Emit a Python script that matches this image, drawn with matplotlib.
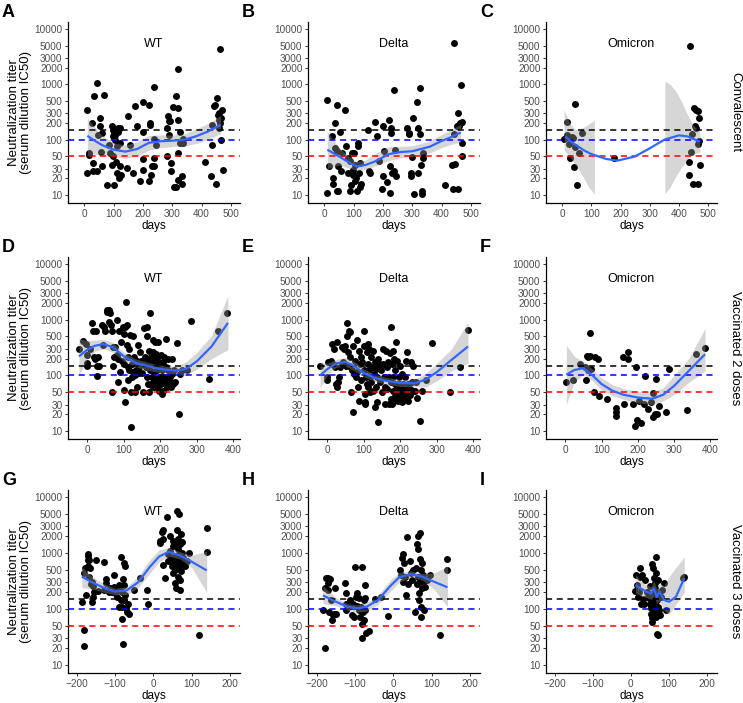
import matplotlib
matplotlib.use("Agg")
import matplotlib.pyplot as plt
import numpy as np

plt.rcParams['font.family'] = ['Liberation Sans', 'DejaVu Sans']

# ---- data: (days, titer) ----
a_points = [(10, 350), (10, 25), (17, 53), (17, 58), (25, 200), (28, 38), (30, 27), (34, 610), (42, 27), (42, 1050),
            (45, 123), (53, 245), (53, 175), (55, 60), (60, 130), (67, 650), (60, 33), (78, 15), (83, 81), (87, 57),
            (95, 175), (97, 150), (93, 35), (99, 50), (102, 15), (104, 123), (105, 100), (108, 40), (110, 76), (112, 25),
            (116, 160), (117, 20), (120, 33), (120, 160), (122, 86), (125, 23), (102, 140), (116, 140), (99, 115),
            (150, 270), (145, 31), (155, 81), (167, 25), (173, 400), (179, 175), (190, 18), (199, 29), (201, 140),
            (199, 44), (201, 490), (219, 18), (222, 430), (224, 185), (224, 200), (227, 23), (230, 33), (236, 910),
            (238, 47), (236, 105), (238, 34), (243, 80), (281, 50), (284, 265), (287, 215), (293, 215), (281, 160),
            (290, 123), (295, 38), (295, 27), (304, 390), (306, 14), (313, 14), (313, 610), (318, 380), (318, 57),
            (321, 1900), (321, 230), (321, 19), (327, 88), (327, 140), (333, 22), (336, 105), (333, 16), (338, 88),
            (411, 40), (432, 22), (435, 81), (437, 185), (441, 400), (444, 430), (450, 16), (452, 570), (458, 300),
            (455, 280), (460, 230), (464, 4300), (466, 245), (469, 350), (466, 100), (473, 28), (464, 200), (461, 160)]
b_points = [(10, 525), (10, 11), (17, 33), (25, 117), (28, 20), (31, 16), (36, 200), (36, 71), (42, 430), (42, 12),
            (47, 12), (44, 62), (47, 33), (53, 140), (56, 27), (60, 57), (70, 350), (72, 78), (80, 46), (82, 25),
            (88, 42), (88, 12), (91, 15), (95, 57), (97, 29), (99, 23), (102, 57), (105, 18), (105, 35), (110, 12),
            (113, 86), (116, 76), (117, 25), (120, 14), (122, 38), (124, 16), (108, 20), (151, 27), (150, 148),
            (156, 25), (173, 210), (179, 117), (188, 42), (196, 13), (199, 22), (201, 175), (205, 62), (213, 17),
            (222, 225), (224, 33), (227, 135), (227, 165), (224, 11), (230, 25), (236, 27), (238, 800), (241, 66),
            (245, 22), (281, 160), (287, 125), (290, 135), (295, 25), (295, 22), (298, 48), (304, 245), (306, 10.5),
            (315, 490), (318, 25), (321, 160), (325, 850), (325, 125), (329, 35), (333, 12), (333, 10.5), (338, 57),
            (336, 46), (412, 15), (436, 35), (439, 13), (441, 5700), (447, 37), (455, 13), (441, 125), (452, 175),
            (456, 300), (458, 185), (464, 200), (467, 980), (469, 210), (469, 86), (469, 50), (461, 175)]
c_points = [(6, 103), (15, 205), (17, 123), (23, 83), (26, 47), (34, 112), (37, 107), (40, 32), (42, 445), (45, 73),
            (51, 15), (57, 57), (68, 131), (178, 47), (435, 40), (435, 23), (437, 4900), (443, 61), (445, 128),
            (449, 16), (451, 370), (455, 175), (458, 165), (460, 350), (465, 330), (465, 85), (467, 16), (469, 245),
            (472, 35), (469, 93)]
d_points = [(-23, 300), (-11, 410), (-4, 370), (0, 230), (-2, 150), (0, 165), (7, 300), (12, 860), (16, 630), (18, 215),
            (21, 200), (24, 640), (26, 145), (27, 96), (30, 215), (33, 145), (39, 790), (42, 350), (46, 750), (49, 640),
            (53, 1480), (55, 1400), (58, 920), (60, 1480), (62, 1330), (64, 790), (67, 630), (67, 51), (69, 325),
            (73, 215), (71, 150), (76, 325), (80, 1000), (82, 230), (85, 76), (85, 200), (88, 640), (89, 115),
            (91, 400), (94, 185), (97, 750), (99, 560), (100, 160), (100, 55), (102, 33), (103, 750), (106, 2050),
            (108, 350), (108, 800), (110, 140), (111, 215), (112, 81), (113, 123), (115, 300), (117, 530), (119, 11.6),
            (120, 50), (121, 93), (122, 160), (124, 115), (126, 500), (128, 215), (130, 50), (130, 100), (133, 123),
            (135, 61), (137, 185), (139, 350), (141, 110), (142, 140), (144, 265), (146, 185), (149, 110), (152, 160),
            (153, 50), (155, 700), (158, 215), (161, 140), (162, 750), (162, 93), (164, 500), (166, 70), (167, 175),
            (169, 280), (170, 50), (172, 1330), (172, 123), (174, 66), (174, 215), (176, 93), (177, 160), (179, 430),
            (179, 61), (181, 265), (181, 76), (183, 200), (183, 115), (184, 400), (185, 61), (186, 160), (188, 87),
            (188, 240), (190, 70), (190, 123), (192, 215), (193, 61), (194, 400), (195, 175), (196, 81), (197, 53),
            (199, 150), (199, 93), (201, 230), (203, 70), (204, 123), (205, 47), (206, 175), (208, 93), (208, 53),
            (210, 215), (213, 76), (214, 140), (216, 460), (217, 93), (219, 61), (221, 123), (222, 200), (225, 76),
            (226, 93), (228, 61), (231, 200), (233, 107), (235, 70), (237, 123), (240, 76), (245, 380), (251, 20),
            (254, 107), (258, 123), (272, 123), (284, 960), (334, 87), (359, 640), (382, 1330)]
e_points = [(-20, 145), (0, 93), (0, 81), (3, 175), (9, 185), (13, 370), (16, 160), (18, 300), (21, 140), (24, 70),
            (26, 61), (27, 400), (30, 76), (33, 93), (35, 140), (39, 320), (42, 175), (46, 300), (48, 340), (51, 150),
            (53, 860), (55, 500), (57, 265), (58, 640), (60, 150), (62, 215), (62, 600), (64, 50), (67, 123), (69, 22),
            (71, 340), (73, 107), (76, 185), (79, 93), (80, 115), (82, 430), (85, 61), (88, 35), (88, 280), (89, 160),
            (91, 215), (93, 81), (95, 175), (99, 340), (100, 640), (100, 123), (102, 33), (103, 47), (104, 31),
            (106, 93), (108, 265), (108, 70), (110, 160), (111, 370), (112, 61), (113, 123), (115, 300), (116, 50),
            (117, 93), (119, 215), (120, 76), (121, 140), (124, 280), (126, 53), (128, 107), (130, 175), (131, 27),
            (132, 61), (133, 130), (135, 33), (137, 93), (139, 14.5), (140, 200), (142, 160), (144, 76), (147, 123),
            (149, 50), (152, 160), (153, 300), (155, 93), (157, 31), (159, 61), (161, 280), (162, 140), (164, 57),
            (166, 175), (168, 93), (170, 31), (172, 250), (174, 38), (174, 76), (174, 750), (176, 31), (177, 160),
            (179, 280), (179, 53), (181, 33), (181, 93), (183, 200), (184, 43), (185, 70), (186, 123), (188, 38),
            (188, 400), (190, 61), (192, 185), (192, 47), (194, 35), (195, 93), (197, 70), (199, 53), (199, 150),
            (201, 40), (203, 61), (204, 107), (205, 33), (206, 50), (208, 70), (210, 40), (212, 93), (213, 57),
            (216, 185), (217, 48), (219, 265), (221, 70), (222, 35), (225, 57), (226, 45), (228, 175), (231, 76),
            (234, 150), (235, 53), (240, 53), (242, 76), (245, 40), (254, 15), (258, 53), (270, 81), (286, 380),
            (336, 50), (362, 140), (384, 660)]
f_points = [(3, 76), (21, 81), (42, 158), (58, 84), (55, 140), (60, 220), (64, 215), (67, 220), (69, 580), (62, 123),
            (71, 130), (82, 215), (89, 200), (80, 51), (94, 42), (115, 38), (140, 22), (140, 19), (140, 26), (161, 31),
            (158, 215), (173, 200), (174, 265), (188, 31), (192, 12.5), (194, 140), (197, 16), (204, 35), (210, 14),
            (217, 31), (219, 97), (228, 25), (235, 33), (243, 48), (243, 18), (246, 20), (249, 87), (252, 20),
            (258, 28), (277, 22), (286, 128), (336, 24), (359, 240), (384, 310)]
g_points = [(-187, 132), (-181, 42), (-180, 22), (-181, 440), (-178, 545), (-176, 180), (-172, 750), (-170, 580),
            (-172, 880), (-170, 950), (-167, 750), (-165, 545), (-167, 380), (-163, 280), (-161, 310), (-161, 135),
            (-158, 165), (-157, 255), (-154, 205), (-150, 750), (-145, 210), (-130, 700), (-129, 220), (-123, 345),
            (-123, 290), (-117, 205), (-113, 235), (-109, 205), (-104, 245), (-102, 410), (-100, 190), (-96, 235),
            (-94, 165), (-90, 265), (-89, 110), (-87, 220), (-85, 860), (-85, 145), (-83, 205), (-83, 66), (-82, 110),
            (-80, 350), (-79, 24), (-78, 670), (-78, 145), (-77, 265), (-75, 580), (-74, 180), (-71, 103), (-70, 90),
            (-65, 83), (-67, 125), (-50, 220), (-35, 360), (-17, 220), (-15, 123), (16, 1540), (17, 1650), (22, 2400),
            (24, 625), (24, 2600), (26, 1800), (30, 360), (35, 4500), (37, 950), (39, 720), (42, 2000), (43, 1080),
            (48, 580), (48, 830), (50, 1330), (52, 1650), (52, 440), (54, 670), (56, 290), (57, 500), (57, 880),
            (59, 1470), (59, 235), (61, 5600), (61, 2600), (63, 750), (63, 380), (64, 1170), (65, 1800), (66, 580),
            (68, 5000), (68, 970), (70, 1430), (70, 330), (70, 220), (71, 2150), (71, 720), (73, 470), (74, 1000),
            (75, 1580), (77, 660), (78, 820), (83, 580), (87, 720), (94, 1000), (120, 35), (139, 2750), (139, 1030)]
h_points = [(-184, 98), (-178, 20), (-178, 235), (-176, 360), (-172, 290), (-170, 220), (-170, 360), (-167, 90),
            (-165, 350), (-163, 145), (-161, 63), (-158, 78), (-155, 80), (-152, 235), (-150, 83), (-127, 290),
            (-125, 95), (-123, 190), (-123, 125), (-119, 110), (-113, 145), (-109, 78), (-106, 125), (-104, 72),
            (-100, 565), (-98, 165), (-96, 115), (-94, 190), (-91, 95), (-89, 155), (-87, 72), (-85, 110), (-83, 55),
            (-83, 565), (-82, 31), (-80, 90), (-78, 145), (-77, 63), (-75, 270), (-74, 155), (-73, 95), (-71, 37),
            (-65, 40), (-48, 150), (-33, 165), (-13, 75), (16, 500), (19, 410), (22, 830), (24, 310), (26, 970),
            (28, 670), (30, 380), (33, 180), (35, 1960), (39, 275), (43, 710), (45, 440), (48, 335), (50, 500),
            (57, 90), (59, 540), (61, 1440), (61, 275), (63, 380), (65, 1180), (65, 2020), (66, 190), (68, 145),
            (70, 770), (70, 2300), (70, 335), (71, 110), (71, 500), (73, 72), (74, 235), (75, 670), (77, 410),
            (78, 310), (80, 95), (83, 250), (87, 335), (96, 410), (122, 35), (141, 790), (141, 500)]
i_points = [(12, 210), (14, 410), (16, 270), (19, 165), (21, 205), (23, 545), (25, 380), (27, 125), (30, 410),
            (32, 150), (34, 122), (36, 335), (41, 205), (45, 165), (47, 155), (49, 125), (51, 255), (53, 103), (54, 83),
            (55, 645), (55, 68), (56, 59), (57, 145), (58, 545), (59, 195), (59, 78), (60, 110), (61, 355), (62, 125),
            (63, 235), (64, 90), (64, 290), (65, 73), (66, 860), (66, 440), (67, 180), (68, 36), (69, 145), (70, 34),
            (71, 110), (72, 335), (73, 195), (75, 95), (76, 78), (79, 165), (82, 220), (88, 290), (92, 98),
            (137, 355), (140, 370)]

# ---- loess smooth: x, fit, lower, upper ----
a_smooth_x = [10, 30, 60, 100, 140, 180, 220, 260, 300, 340, 380, 420, 465]
a_smooth_y = [118, 100, 80, 66, 61, 68, 88, 94, 96, 100, 115, 140, 185]
a_smooth_lo = [52, 55, 55, 50, 46, 50, 65, 72, 75, 77, 85, 100, 130]
a_smooth_hi = [245, 180, 120, 88, 80, 92, 120, 122, 122, 128, 155, 195, 275]

b_smooth_x = [10, 50, 80, 110, 140, 170, 220, 260, 300, 360, 400, 430, 465]
b_smooth_y = [66, 50, 40, 33, 35, 40, 55, 60, 62, 75, 95, 110, 135]
b_smooth_lo = [30, 35, 31, 28, 29, 33, 42, 47, 50, 58, 72, 82, 90]
b_smooth_hi = [140, 72, 52, 40, 43, 55, 75, 76, 78, 95, 125, 150, 190]

c_smooth_x = [10, 30, 50, 75, 100, 150, 190, 250, 300, 350, 400, 430, 472]
c_smooth_y = [115, 92, 78, 64, 55, 45, 42, 50, 70, 100, 120, 115, 92]
c_band1_x = [6, 25, 45, 70, 90, 110]
c_band1_lo = [65, 50, 35, 22, 14, 10.5]
c_band1_hi = [350, 200, 150, 165, 190, 225]
c_band2_x = [352, 370, 390, 410, 430, 450, 472]
c_band2_lo = [10.5, 14, 22, 32, 45, 55, 60]
c_band2_hi = [1150, 1000, 750, 480, 280, 180, 140]

d_smooth_x = [-23, 0, 20, 45, 70, 100, 130, 160, 200, 240, 270, 300, 340, 385]
d_smooth_y = [220, 290, 340, 365, 320, 220, 170, 150, 130, 122, 130, 180, 330, 880]
d_smooth_lo = [100, 200, 270, 300, 260, 180, 145, 125, 112, 105, 100, 130, 200, 290]
d_smooth_hi = [460, 420, 430, 440, 390, 260, 200, 175, 152, 145, 175, 260, 520, 2700]

e_smooth_x = [-20, 0, 25, 50, 75, 100, 130, 160, 200, 240, 270, 300, 340, 385]
e_smooth_y = [100, 130, 165, 175, 145, 110, 90, 80, 73, 72, 85, 115, 190, 330]
e_smooth_lo = [60, 100, 140, 145, 120, 95, 78, 70, 63, 62, 62, 80, 120, 165]
e_smooth_hi = [170, 165, 195, 210, 175, 130, 104, 92, 85, 85, 110, 165, 300, 900]

f_smooth_x = [3, 25, 50, 75, 100, 130, 160, 200, 240, 270, 300, 340, 385]
f_smooth_y = [103, 125, 135, 100, 70, 53, 45, 40, 38, 45, 65, 120, 240]
f_smooth_lo = [30, 75, 105, 80, 55, 43, 37, 32, 30, 35, 45, 75, 120]
f_smooth_hi = [350, 220, 175, 130, 90, 68, 58, 52, 50, 60, 100, 200, 700]

g_smooth_x = [-187, -160, -130, -100, -70, -40, -10, 15, 40, 70, 100, 139]
g_smooth_y = [380, 300, 240, 205, 215, 300, 560, 870, 1050, 900, 700, 490]
g_smooth_lo = [240, 230, 200, 180, 180, 240, 430, 700, 880, 780, 550, 200]
g_smooth_hi = [560, 380, 285, 235, 250, 380, 750, 1150, 1250, 1050, 920, 1080]

h_smooth_x = [-184, -150, -120, -95, -70, -40, -10, 15, 45, 75, 105, 141]
h_smooth_y = [175, 135, 110, 103, 110, 145, 250, 370, 420, 380, 310, 245]
h_smooth_lo = [125, 115, 95, 88, 92, 120, 200, 300, 370, 330, 230, 110]
h_smooth_hi = [260, 160, 125, 118, 130, 175, 320, 450, 480, 430, 440, 580]

i_smooth_x = [12, 25, 40, 53, 60, 68, 75, 87, 100, 118, 140]
i_smooth_y = [270, 235, 205, 190, 235, 165, 205, 145, 135, 165, 355]
i_smooth_lo = [190, 175, 160, 150, 170, 125, 140, 95, 80, 120, 200]
i_smooth_hi = [410, 320, 270, 250, 320, 230, 290, 260, 380, 550, 850]

variant_titles = ['WT', 'Delta', 'Omicron']
row_labels = ['Convalescent', 'Vaccinated 2 doses', 'Vaccinated 3 doses']
panel_letters = ['A', 'B', 'C', 'D', 'E', 'F', 'G', 'H', 'I']
y_ticks = [10, 20, 30, 50, 100, 200, 300, 500, 1000, 2000, 3000, 5000, 10000]
cutoffs = [150, 100, 50]
cutoff_colors = ['black', '#0000FF', '#FF0000']

panels = [
    (a_points, (a_smooth_x, a_smooth_y), [(a_smooth_x, a_smooth_lo, a_smooth_hi)]),
    (b_points, (b_smooth_x, b_smooth_y), [(b_smooth_x, b_smooth_lo, b_smooth_hi)]),
    (c_points, (c_smooth_x, c_smooth_y), [(c_band1_x, c_band1_lo, c_band1_hi), (c_band2_x, c_band2_lo, c_band2_hi)]),
    (d_points, (d_smooth_x, d_smooth_y), [(d_smooth_x, d_smooth_lo, d_smooth_hi)]),
    (e_points, (e_smooth_x, e_smooth_y), [(e_smooth_x, e_smooth_lo, e_smooth_hi)]),
    (f_points, (f_smooth_x, f_smooth_y), [(f_smooth_x, f_smooth_lo, f_smooth_hi)]),
    (g_points, (g_smooth_x, g_smooth_y), [(g_smooth_x, g_smooth_lo, g_smooth_hi)]),
    (h_points, (h_smooth_x, h_smooth_y), [(h_smooth_x, h_smooth_lo, h_smooth_hi)]),
    (i_points, (i_smooth_x, i_smooth_y), [(i_smooth_x, i_smooth_lo, i_smooth_hi)]),
]

# layout in pixels
W, H = 743, 703
col_left = [68, 308, 546]
col_right = [240, 480, 717]
row_top = [22, 257, 490]
row_bottom = [203, 439, 673]
row_xlim = [(-56, 531), (-53, 418), (-223, 226)]
row_xticks = [range(0, 501, 100), range(0, 401, 100), range(-200, 201, 100)]

fig = plt.figure(figsize=(W / 100, H / 100), dpi=100)

for k, (pts, fit, bands) in enumerate(panels):
    r, c = divmod(k, 3)
    l, rt = col_left[c], col_right[c]
    t, b = row_top[r], row_bottom[r]
    ax = fig.add_axes([l / W, 1 - b / H, (rt - l) / W, (b - t) / H])

    pts = np.array(pts, dtype=float)
    ax.scatter(pts[:, 0], pts[:, 1], s=25, color='black', linewidths=0, zorder=2)
    for bx, blo, bhi in bands:
        ax.fill_between(bx, blo, bhi, color='#999999', alpha=0.4, linewidth=0, zorder=3)
    for val, col in zip(cutoffs, cutoff_colors):
        ax.axhline(val, color=col, linestyle=(0, (4, 3)), linewidth=1.1, zorder=4)
    ax.plot(fit[0], fit[1], color='#3366FF', linewidth=1.6, zorder=5, solid_capstyle='butt')

    ax.set_yscale('log')
    ax.set_ylim(7.2, 13400)
    ax.set_yticks(y_ticks)
    ax.set_yticklabels([str(v) for v in y_ticks])
    ax.minorticks_off()
    ax.set_xlim(*row_xlim[r])
    ax.set_xticks(list(row_xticks[r]))

    for s in ['top', 'right']:
        ax.spines[s].set_visible(False)
    for s in ['left', 'bottom']:
        ax.spines[s].set_linewidth(0.9)
        ax.spines[s].set_color('black')
    ax.tick_params(axis='both', labelsize=7.2, labelcolor='#4D4D4D', color='#333333',
                   length=2.5, width=0.7, pad=1.5)

    ax.set_xlabel('days', fontsize=8.5, labelpad=1)
    ax.text(0.5, 0.88, variant_titles[c], transform=ax.transAxes, ha='center', va='center', fontsize=9)
    if c == 0:
        ax.set_ylabel('Neutralization titer\n(serum dilution IC50)', fontsize=9.5, labelpad=2, linespacing=1.0)
    if c == 2:
        ax.text(735 / W, 1 - ((t + b) / 2) / H, row_labels[r], transform=fig.transFigure,
                rotation=270, ha='center', va='center', fontsize=9.5)

    fig.text((l - 66) / W, 1 - (t - 5) / H, panel_letters[k], fontsize=13, fontweight='bold',
             ha='left', va='baseline')

fig.savefig('out.png', dpi=100)
